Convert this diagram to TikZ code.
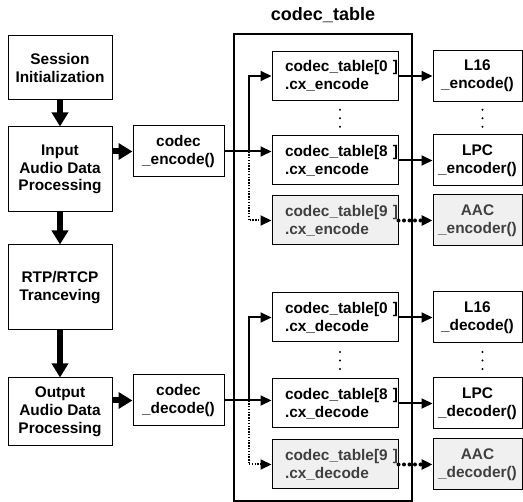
\documentclass[tikz,border=0pt]{standalone}
\usepackage{fontspec}
\setmainfont{Liberation Sans}
\usetikzlibrary{arrows.meta,positioning,calc}

\begin{document}
\begin{tikzpicture}[x=1pt,y=-1pt,
    every node/.style={font=\fontsize{15.4}{17.8}\selectfont\bfseries},
    flow node/.style={draw,line width=1pt,align=center,minimum width=104pt,inner sep=2pt},
    call node/.style={draw,line width=1pt,align=center,minimum width=91pt,minimum height=51pt,inner sep=2pt},
    entry node/.style={draw,line width=1pt,align=left,text width=100pt,inner xsep=13pt,inner ysep=2pt,minimum height=49pt},
    func node/.style={draw,line width=1pt,align=center,minimum width=89pt,minimum height=51pt,inner sep=2pt},
    unused/.style={fill=gray!12,text=black!75},
    big arrow/.style={line width=6pt,-{Triangle[length=14pt,width=16pt]}},
    link/.style={line width=2pt,-{Triangle[length=11pt,width=10pt]}},
    dot link/.style={line width=2pt,dash pattern=on 1.4pt off 1.4pt,-{Triangle[length=11pt,width=10pt]}},
    big dot link/.style={line width=4pt,line cap=round,dash pattern=on 0pt off 5.5pt,-{Triangle[length=11pt,width=10pt]}}]

  \useasboundingbox (0,0) rectangle (523,502);

  \node[flow node,minimum height=64pt] (sess) at (60,68) {Session\\Initialization};
  \node[flow node,minimum height=85pt] (input) [below=26pt of sess] {Input\\Audio Data\\Processing};
  \node[flow node,minimum height=85pt] (rtp) [below=32pt of input] {RTP/RTCP\\Tranceving};
  \node[flow node,minimum height=68pt] (outp) [below=47pt of rtp] {Output\\Audio Data\\Processing};

  \node[call node] (enc) at (178.5,151.5) {codec\\\_encode()};
  \node[call node] (dec) at (178.5,400.5) {codec\\\_decode()};

  \node[draw,line width=2pt,minimum width=178pt,minimum height=467pt] (tbl) at (323,267.5) {};
  \node[inner sep=0pt,font=\fontsize{18}{20}\selectfont\bfseries] (ttl) [above=10pt of tbl] {codec\_table};

  \node[entry node] (e0) at (335,76) {codec\_table[0~]\\.cx\_encode};
  \node[entry node] (e8) [below=34.5pt of e0] {codec\_table[8~]\\.cx\_encode};
  \node[entry node,unused] (e9) [below=10pt of e8] {codec\_table[9~]\\.cx\_encode};
  \node[entry node] (d0) at (335,317.5) {codec\_table[0~]\\.cx\_decode};
  \node[entry node] (d8) [below=36pt of d0] {codec\_table[8~]\\.cx\_decode};
  \node[entry node,unused] (d9) [below=11pt of d8] {codec\_table[9~]\\.cx\_decode};

  \node[func node] (fe0) [right=34pt of e0] {L16\\\_encode()};
  \node[func node] (fe8) [right=34pt of e8] {LPC\\\_encoder()};
  \node[func node,unused] (fe9) [right=34pt of e9] {AAC\\\_encoder()};
  \node[func node] (fd0) [right=34pt of d0] {L16\\\_decode()};
  \node[func node] (fd8) [right=34pt of d8] {LPC\\\_decoder()};
  \node[func node,unused] (fd9) [right=34pt of d9] {AAC\\\_decoder()};

  \draw[big arrow] (sess) -- (input);
  \draw[big arrow] (input) -- (rtp);
  \draw[big arrow] (rtp) -- (outp);
  \draw[big arrow] (enc.west -| input.east) -- (enc.west);
  \draw[big arrow] (dec.west -| outp.east) -- (dec.west);

  \coordinate (ebr) at ($(enc.east)+(24pt,0)$);
  \coordinate (dbr) at ($(dec.east)+(24pt,0)$);
  \draw[link] (enc.east) -- (enc.east -| e8.west);
  \draw[link] (ebr) |- (e0.west);
  \draw[dot link] (ebr) |- (e9.west);
  \draw[link] (dec.east) -- (dec.east -| d8.west);
  \draw[link] (dbr) |- (d0.west);
  \draw[dot link] (dbr) |- (d9.west);

  \draw[link] (e0.east) -- (e0.east -| fe0.west);
  \draw[link] (e8.east) -- (e8.east -| fe8.west);
  \draw[big dot link] (e9.east) -- (e9.east -| fe9.west);
  \draw[link] (d0.east) -- (d0.east -| fd0.west);
  \draw[link] (d8.east) -- (d8.east -| fd8.west);
  \draw[big dot link] (d9.east) -- (d9.east -| fd9.west);

  \path (e0) -- (e8) coordinate[midway] (edots);
  \path (fe0) -- (fe8) coordinate[midway] (fedots);
  \path (d0) -- (d8) coordinate[midway] (ddots);
  \path (fd0) -- (fd8) coordinate[midway] (fddots);
  \foreach \c in {edots,fedots,ddots,fddots}
    \foreach \d in {-8.5,0,8.5}
      \fill ([xshift=5pt,yshift=\d pt]\c) circle (1.2pt);
\end{tikzpicture}
\end{document}
